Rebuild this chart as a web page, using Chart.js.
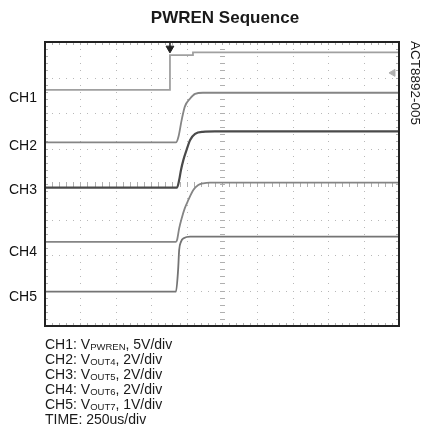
<!DOCTYPE html>
<html>
<head>
<meta charset="utf-8">
<script src="https://cdn.jsdelivr.net/npm/chart.js@4.4.0/dist/chart.umd.min.js"></script>
<style>
  html, body { margin: 0; padding: 0; background: #fff; }
  #wrap { position: relative; width: 422px; height: 430px; font-family: "Liberation Sans", Arial, sans-serif; color: #1a1a1a; }
  #scope { position: absolute; left: 0; top: 0; }
  #title { position: absolute; left: 0; width: 450px; top: 8px; text-align: center; font-weight: bold; font-size: 17px; }
  #partno { position: absolute; left: 363px; top: 75px; width: 104px; height: 16px; line-height: 16px; text-align: center; font-size: 13.5px; transform: rotate(90deg); transform-origin: 52px 8px; }
  #notes { position: absolute; left: 45px; top: 337px; font-size: 14px; line-height: 15px; }
  #notes div { height: 15px; }
  #notes sub { font-size: 9.5px; line-height: 0; vertical-align: baseline; position: relative; top: 1px; }
</style>
</head>
<body>
<div id="wrap">
  <canvas id="scope" width="422" height="430"></canvas>
  <div id="title">PWREN Sequence</div>
  <div id="partno">ACT8892-005</div>
  <div id="notes">
    <div>CH1: V<sub>PWREN</sub>, 5V/div</div>
    <div>CH2: V<sub>OUT4</sub>, 2V/div</div>
    <div>CH3: V<sub>OUT5</sub>, 2V/div</div>
    <div>CH4: V<sub>OUT6</sub>, 2V/div</div>
    <div>CH5: V<sub>OUT7</sub>, 1V/div</div>
    <div>TIME: 250us/div</div>
  </div>
</div>
<script>
// screen is 10 x 8 divisions, values below are in divisions
const chLabels = ['CH1', 'CH2', 'CH3', 'CH4', 'CH5'];
const chLabelPos = [6.42, 5.07, 3.83, 2.08, 0.82];

const ch1 = [
  { x: 0, y: 6.65 }, { x: 3.53, y: 6.65 }, { x: 3.53, y: 7.63 },
  { x: 4.18, y: 7.63 }, { x: 4.18, y: 7.71 }, { x: 10, y: 7.71 }
];
const ch2 = [
  { x: 0, y: 5.17 }, { x: 3.70, y: 5.17 }, { x: 3.77, y: 5.33 }, { x: 3.86, y: 5.80 },
  { x: 3.95, y: 6.18 }, { x: 4.10, y: 6.41 }, { x: 4.24, y: 6.54 }, { x: 4.46, y: 6.57 },
  { x: 10, y: 6.57 }
];
const ch3 = [
  { x: 0, y: 3.90 }, { x: 3.73, y: 3.90 }, { x: 3.79, y: 4.11 }, { x: 3.84, y: 4.39 },
  { x: 3.91, y: 4.68 }, { x: 4.00, y: 4.96 }, { x: 4.10, y: 5.24 }, { x: 4.24, y: 5.41 },
  { x: 4.46, y: 5.47 }, { x: 4.80, y: 5.48 }, { x: 10, y: 5.48 }
];
const ch4 = [
  { x: 0, y: 2.37 }, { x: 3.70, y: 2.37 }, { x: 3.73, y: 2.42 }, { x: 3.79, y: 2.75 },
  { x: 3.86, y: 3.03 }, { x: 3.95, y: 3.32 }, { x: 4.05, y: 3.55 }, { x: 4.19, y: 3.83 },
  { x: 4.33, y: 3.97 }, { x: 4.47, y: 4.02 }, { x: 4.66, y: 4.04 }, { x: 10, y: 4.04 }
];
const ch5 = [
  { x: 0, y: 0.97 }, { x: 3.70, y: 0.97 }, { x: 3.76, y: 1.58 }, { x: 3.79, y: 2.14 },
  { x: 3.84, y: 2.37 }, { x: 3.93, y: 2.48 }, { x: 4.10, y: 2.52 }, { x: 10, y: 2.52 }
];
const trigStem = [{ x: 3.53, y: 8 }, { x: 3.53, y: 7.86 }];
const trigMark = [{ x: 3.53, y: 7.82 }];
const levelMark = [{ x: 9.83, y: 7.13 }];

const traceColors = ['#a0a0a0', '#858585', '#4a4a4a', '#858585', '#747474'];

// dotted scope graticule, drawn through the scales
const graticule = {
  id: 'graticule',
  beforeDatasetsDraw(chart) {
    const { ctx, chartArea: a, scales: { x, y } } = chart;
    ctx.save();
    ctx.fillStyle = '#b8b8b8';
    for (let i = 1; i < 10; i++) {
      const px = Math.round(x.getPixelForValue(i));
      for (let k = 0; k <= 40; k++) {
        ctx.fillRect(px, Math.round(y.getPixelForValue(k * 0.2)), 1, 1);
      }
    }
    for (let j = 1; j < 8; j++) {
      const py = Math.round(y.getPixelForValue(j));
      for (let k = 0; k <= 50; k++) {
        ctx.fillRect(Math.round(x.getPixelForValue(k * 0.2)), py, 1, 1);
      }
    }
    // center axis ticks
    const cx = Math.round(x.getPixelForValue(5));
    const cy = Math.round(y.getPixelForValue(4));
    ctx.fillStyle = '#b0b0b0';
    for (let k = 0; k <= 40; k++) {
      ctx.fillRect(cx - 2, Math.round(y.getPixelForValue(k * 0.2)), 5, 1);
    }
    for (let k = 0; k <= 50; k++) {
      ctx.fillRect(Math.round(x.getPixelForValue(k * 0.2)), cy - 2, 1, 5);
    }
    // edge ticks
    for (let k = 0; k <= 50; k++) {
      const px = Math.round(x.getPixelForValue(k * 0.2));
      ctx.fillRect(px, a.top + 1, 1, 2);
      ctx.fillRect(px, a.bottom - 3, 1, 2);
    }
    for (let k = 0; k <= 40; k++) {
      const py = Math.round(y.getPixelForValue(k * 0.2));
      ctx.fillRect(a.left + 1, py, 2, 1);
      ctx.fillRect(a.right - 3, py, 2, 1);
    }
    ctx.restore();
  },
  afterDatasetsDraw(chart) {
    const { ctx, chartArea: a } = chart;
    ctx.save();
    ctx.strokeStyle = '#222';
    ctx.lineWidth = 2;
    ctx.strokeRect(a.left, a.top, a.right - a.left, a.bottom - a.top);
    ctx.restore();
  }
};

const trace = (data, i, w) => ({
  data: data,
  borderColor: traceColors[i],
  borderWidth: w,
  pointRadius: 0,
  cubicInterpolationMode: i === 0 ? 'default' : 'monotone',
  tension: 0
});

new Chart(document.getElementById('scope'), {
  type: 'line',
  data: {
    datasets: [
      trace(ch1, 0, 1.8),
      trace(ch2, 1, 1.8),
      trace(ch3, 2, 2.2),
      trace(ch4, 3, 1.8),
      trace(ch5, 4, 1.8),
      { data: trigStem, borderColor: '#222', borderWidth: 1.5, pointRadius: 0 },
      { data: trigMark, showLine: false, pointStyle: 'triangle', rotation: 180, pointRadius: 4.5,
        backgroundColor: '#222', borderColor: '#222', borderWidth: 1 },
      { data: levelMark, showLine: false, pointStyle: 'triangle', rotation: 270, pointRadius: 4,
        backgroundColor: '#b0b0b0', borderColor: '#b0b0b0', borderWidth: 1 }
    ]
  },
  options: {
    responsive: false,
    devicePixelRatio: 1,
    animation: false,
    events: [],
    layout: { padding: { left: 0, right: 23, top: 42, bottom: 104 } },
    plugins: { legend: { display: false }, tooltip: { enabled: false }, title: { display: false } },
    scales: {
      x: { type: 'linear', min: 0, max: 10, display: false },
      y: {
        type: 'linear', min: 0, max: 8, position: 'left',
        afterFit: s => { s.width = 45; },
        afterBuildTicks: s => { s.ticks = chLabelPos.map(v => ({ value: v })); },
        ticks: {
          autoSkip: false, padding: 8, color: '#111',
          font: { size: 14, family: '"Liberation Sans", Arial, sans-serif' },
          callback: (v, i) => chLabels[i]
        },
        grid: { display: false, drawTicks: false },
        border: { display: false }
      }
    }
  },
  plugins: [graticule]
});
</script>
</body>
</html>
